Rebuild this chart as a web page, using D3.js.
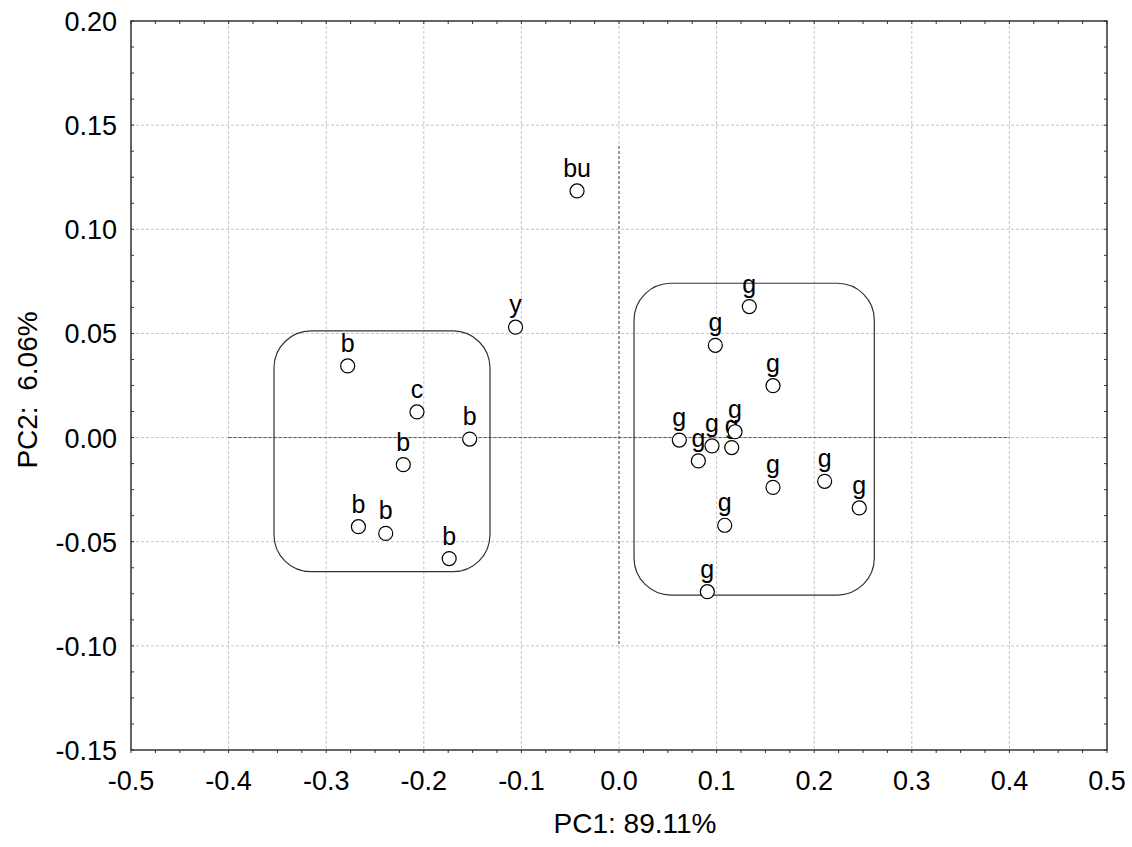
<!DOCTYPE html>
<html lang="en">
<head>
    <meta charset="UTF-8">
    <title>PCA scores</title>
    <script src="https://d3js.org/d3.v7.min.js"></script>
    <style>
        body { margin: 0; background: white; }
        svg { font-family: 'Liberation Sans', Arial, sans-serif; }
    </style>
</head>
<body>
    <div id="chart"></div>
    <script>
    // sample scores on PC1 / PC2
    var labels = ['b', 'c', 'b', 'b', 'b', 'b', 'b', 'bu', 'y',
                  'g', 'g', 'g', 'g', 'g', 'g', 'g', 'g', 'g', 'g', 'g', 'g', 'g'];
    var pc1 = [-0.278, -0.207, -0.153, -0.221, -0.267, -0.239, -0.174, -0.043, -0.106,
               0.1335, 0.0987, 0.1578, 0.0618, 0.0953, 0.1189, 0.1155, 0.0813, 0.1578, 0.2107, 0.2462, 0.1083, 0.0905];
    var pc2 = [0.0344, 0.0123, -0.0007, -0.013, -0.0428, -0.046, -0.0581, 0.1184, 0.053,
               0.0629, 0.0443, 0.0249, -0.0012, -0.004, 0.0028, -0.0048, -0.0112, -0.0239, -0.021, -0.0338, -0.0421, -0.074];

    // group boxes: [x0, x1, y0, y1]
    var boxes = [[-0.3535, -0.1322, 0.0512, -0.0644],
                 [0.0154, 0.2616, 0.0741, -0.0756]];

    var xTicks = [-0.5, -0.4, -0.3, -0.2, -0.1, 0.0, 0.1, 0.2, 0.3, 0.4, 0.5];
    var yTicks = [-0.15, -0.10, -0.05, 0.00, 0.05, 0.10, 0.15, 0.20];

    var width = 1132, height = 847;
    var mLeft = 131, mRight = 1107, mTop = 21, mBottom = 750;

    var svg = d3.select('#chart').append('svg')
        .attr('width', width)
        .attr('height', height);

    var x = d3.scaleLinear().domain([-0.5, 0.5]).range([mLeft, mRight]);
    var y = d3.scaleLinear().domain([-0.15, 0.20]).range([mBottom, mTop]);

    function fmt(spec) {
        var f = d3.format(spec);
        return d => f(d).replace('\u2212', '-');
    }

    // grid lines
    svg.append('g').selectAll('line')
        .data(xTicks.slice(1, -1))
        .enter().append('line')
        .attr('x1', d => x(d)).attr('x2', d => x(d))
        .attr('y1', mTop).attr('y2', mBottom)
        .attr('stroke', '#c4c4c4')
        .attr('stroke-dasharray', '3,2');
    svg.append('g').selectAll('line')
        .data(yTicks.slice(1, -1))
        .enter().append('line')
        .attr('x1', mLeft).attr('x2', mRight)
        .attr('y1', d => y(d)).attr('y2', d => y(d))
        .attr('stroke', '#c4c4c4')
        .attr('stroke-dasharray', '3,2');

    // origin lines
    svg.append('line')
        .attr('x1', x(-0.4)).attr('x2', x(0.4))
        .attr('y1', y(0)).attr('y2', y(0))
        .attr('stroke', '#555')
        .attr('stroke-dasharray', '3,2');
    svg.append('line')
        .attr('x1', x(0)).attr('x2', x(0))
        .attr('y1', y(0.14)).attr('y2', y(-0.10))
        .attr('stroke', '#555')
        .attr('stroke-dasharray', '3,2');

    // frame
    svg.append('rect')
        .attr('x', mLeft).attr('y', mTop)
        .attr('width', mRight - mLeft).attr('height', mBottom - mTop)
        .attr('fill', 'none')
        .attr('stroke', '#333')
        .attr('stroke-width', 1.5);

    // minor ticks, inward
    var xMinor = d3.range(0, 41).map(i => -0.5 + i * 0.025);
    var yMinor = d3.range(0, 29).map(i => -0.15 + i * 0.0125);
    var ticks = svg.append('g').attr('stroke', '#333');
    xMinor.forEach(function (t) {
        ticks.append('line').attr('x1', x(t)).attr('x2', x(t)).attr('y1', mBottom).attr('y2', mBottom + 3);
        ticks.append('line').attr('x1', x(t)).attr('x2', x(t)).attr('y1', mTop).attr('y2', mTop + 3);
    });
    yMinor.forEach(function (t) {
        ticks.append('line').attr('x1', mLeft).attr('x2', mLeft + 3).attr('y1', y(t)).attr('y2', y(t));
        ticks.append('line').attr('x1', mRight).attr('x2', mRight - 3).attr('y1', y(t)).attr('y2', y(t));
    });

    // tick labels
    svg.append('g').selectAll('text')
        .data(xTicks)
        .enter().append('text')
        .attr('x', d => x(d))
        .attr('y', 790)
        .attr('text-anchor', 'middle')
        .style('font-size', '27px')
        .text(fmt('.1f'));
    svg.append('g').selectAll('text')
        .data(yTicks)
        .enter().append('text')
        .attr('x', 117)
        .attr('y', d => y(d) + 10)
        .attr('text-anchor', 'end')
        .style('font-size', '27px')
        .text(fmt('.2f'));

    // axis titles
    svg.append('text')
        .attr('x', 635)
        .attr('y', 833)
        .attr('text-anchor', 'middle')
        .style('font-size', '28px')
        .text('PC1: 89.11%');
    svg.append('text')
        .attr('transform', 'translate(37,390) rotate(-90)')
        .attr('text-anchor', 'middle')
        .style('font-size', '28px')
        .style('white-space', 'pre')
        .text('PC2:  6.06%');

    // group boxes
    svg.append('g').selectAll('rect')
        .data(boxes)
        .enter().append('rect')
        .attr('x', d => x(d[0]))
        .attr('y', d => y(d[2]))
        .attr('width', d => x(d[1]) - x(d[0]))
        .attr('height', d => y(d[3]) - y(d[2]))
        .attr('rx', 37).attr('ry', 37)
        .attr('fill', 'none')
        .attr('stroke', '#333')
        .attr('stroke-width', 1.2);

    // labels first, then circles on top
    var idx = d3.range(labels.length);
    svg.append('g').selectAll('text')
        .data(idx)
        .enter().append('text')
        .attr('x', i => x(pc1[i]))
        .attr('y', i => y(pc2[i]) - 14)
        .attr('text-anchor', 'middle')
        .style('font-size', '25px')
        .text(i => labels[i]);
    svg.append('g').selectAll('circle')
        .data(idx)
        .enter().append('circle')
        .attr('cx', i => x(pc1[i]))
        .attr('cy', i => y(pc2[i]))
        .attr('r', 7)
        .attr('fill', 'white')
        .attr('stroke', 'black')
        .attr('stroke-width', 1.2);
    </script>
</body>
</html>
